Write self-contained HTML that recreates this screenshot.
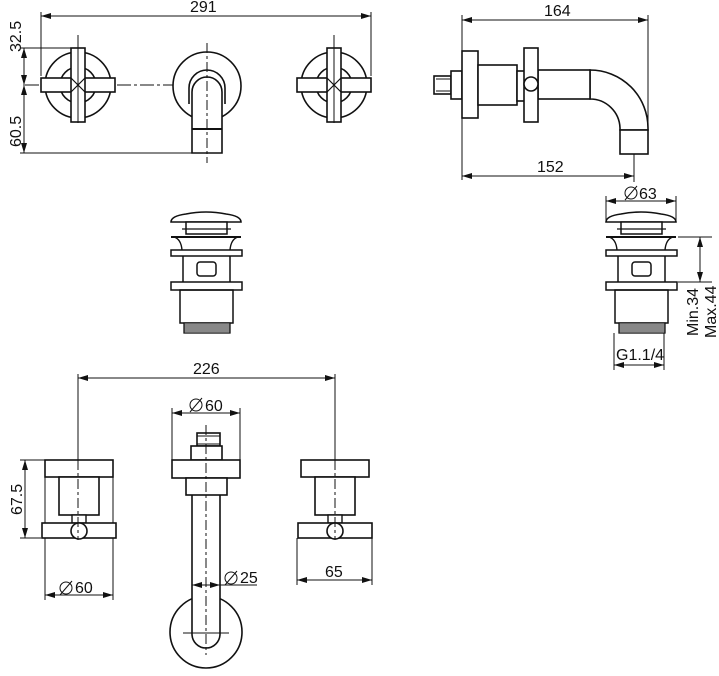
<!DOCTYPE html>
<html><head><meta charset="utf-8"><style>
html,body{margin:0;padding:0;background:#fff;}
svg{display:block;}
text{font-family:"Liberation Sans",sans-serif;font-size:16px;fill:#111;}
</style></head><body>
<svg width="719" height="676" viewBox="0 0 719 676" xmlns="http://www.w3.org/2000/svg">
<defs>
<marker id="a" viewBox="0 0 10 6" refX="10" refY="3" markerWidth="10" markerHeight="6" orient="auto-start-reverse" markerUnits="userSpaceOnUse"><path d="M0,0 L10,3 L0,6 z" fill="#111"/></marker>
<g id="cross">
<circle cx="0" cy="0" r="33" fill="none" stroke="#111" stroke-width="1.6"/>
<circle cx="0" cy="0" r="18" fill="none" stroke="#111" stroke-width="1.6"/>
<rect x="-37" y="-7" width="74" height="14" fill="#fff" stroke="#111" stroke-width="1.6"/>
<rect x="-7" y="-37" width="14" height="74" fill="#fff" stroke="#111" stroke-width="1.6"/>
<rect x="-6" y="-6" width="12" height="12" fill="#fff"/>
<path d="M-7,-7 L7,7 M-7,7 L7,-7" stroke="#111" stroke-width="1.2"/>
</g>
<g id="waste">
<path d="M-35,9 Q-35,3 -20,1 Q0,-3 20,1 Q35,3 35,9 Z" fill="#fff" stroke="#111" stroke-width="1.6"/>
<rect x="-20" y="9" width="41" height="12" fill="#fff" stroke="#111" stroke-width="1.5"/>
<line x1="-24" y1="16" x2="25" y2="16" stroke="#111" stroke-width="1.3"/>
<line x1="-35" y1="24" x2="35" y2="24" stroke="#111" stroke-width="2"/>
<path d="M-32,24 Q-25,26 -24,37 M32,24 Q25,26 24,37" fill="none" stroke="#111" stroke-width="1.4"/>
<rect x="-35" y="37" width="71" height="6" fill="#fff" stroke="#111" stroke-width="1.5"/>
<path d="M-23,43 L-23,69 M24,43 L24,69" stroke="#111" stroke-width="1.5"/>
<rect x="-9" y="49" width="19" height="14" rx="3" fill="none" stroke="#111" stroke-width="1.5"/>
<rect x="-35" y="69" width="71" height="8" fill="#fff" stroke="#111" stroke-width="1.5"/>
<rect x="-26" y="77" width="53" height="33" fill="none" stroke="#111" stroke-width="1.5"/>
<rect x="-22" y="110" width="46" height="10" fill="#fff" stroke="#111" stroke-width="1.3"/>
<path d="M-22,112 H24 M-22,114 H24 M-22,116 H24 M-22,118 H24" stroke="#111" stroke-width="1"/>
</g>
<g id="hnd">
<rect x="-34" y="0" width="68" height="17" fill="#fff" stroke="#111" stroke-width="1.6"/>
<rect x="-20" y="17" width="40" height="38" fill="#fff" stroke="#111" stroke-width="1.6"/>
<rect x="-7" y="55" width="14" height="8" fill="#fff" stroke="#111" stroke-width="1.4"/>
<rect x="-37" y="63" width="74" height="15" fill="#fff" stroke="#111" stroke-width="1.6"/>
<circle cx="0" cy="71" r="8" fill="#fff" stroke="#111" stroke-width="1.6"/>
</g>
</defs>
<g stroke="#111" stroke-width="1" fill="none">
<line x1="41" y1="16" x2="371" y2="16" marker-start="url(#a)" marker-end="url(#a)"/>
<line x1="41" y1="12" x2="41" y2="76"/><line x1="371" y1="12" x2="371" y2="76"/>
<line x1="24" y1="48" x2="24" y2="85" marker-start="url(#a)" marker-end="url(#a)"/>
<line x1="24" y1="85" x2="24" y2="153" marker-start="url(#a)" marker-end="url(#a)"/>
<line x1="20" y1="48" x2="72" y2="48"/><line x1="20" y1="153" x2="192" y2="153"/>
<line x1="25" y1="85" x2="205" y2="85" stroke-dasharray="14,3,3,3"/>
</g>
<use href="#cross" x="78" y="85"/>
<use href="#cross" x="334" y="85"/>
<g stroke="#111" stroke-width="1.6" fill="#fff">
<circle cx="207" cy="86" r="34"/>
<path d="M192,153 V92 A15,15 0 0 1 222,92 V153 Z"/>
<path d="M189,104 V88 A18,18 0 0 1 225,88 V104" fill="none"/>
<line x1="192" y1="129" x2="222" y2="129" stroke-width="2"/>
</g>
<line x1="207" y1="43" x2="207" y2="163" stroke="#111" stroke-width="1" stroke-dasharray="10,3,3,3"/>
<line x1="78" y1="35" x2="78" y2="123" stroke="#111" stroke-width="1"/>
<line x1="334" y1="35" x2="334" y2="123" stroke="#111" stroke-width="1"/>
<text x="190" y="12">291</text>
<text transform="translate(21,52) rotate(-90)">32.5</text>
<text transform="translate(21,147) rotate(-90)">60.5</text>

<g stroke="#111" stroke-width="1" fill="none">
<line x1="462" y1="20" x2="648" y2="20" marker-start="url(#a)" marker-end="url(#a)"/>
<line x1="462" y1="15" x2="462" y2="180"/><line x1="648" y1="15" x2="648" y2="130"/>
<line x1="462" y1="176" x2="634" y2="176" marker-start="url(#a)" marker-end="url(#a)"/>
<line x1="634" y1="120" x2="634" y2="182"/>
</g>
<g stroke="#111" stroke-width="1.6" fill="#fff">
<rect x="434" y="76" width="17" height="18"/>
<rect x="451" y="71" width="11" height="28"/>
<rect x="462" y="51" width="16" height="67"/>
<rect x="478" y="65" width="39" height="40"/>
<rect x="517" y="71" width="8" height="30"/>
<path d="M590,70 A58,58 0 0 1 648,128 V130 H620 V128 A30,30 0 0 0 590,99 Z"/>
<rect x="538" y="70" width="52" height="29"/>
<rect x="524" y="48" width="14" height="74"/>
<circle cx="531" cy="84" r="7"/>
<rect x="620" y="130" width="28" height="24"/>
</g>
<path d="M436,79 H450 M436,91 H450" stroke="#111" stroke-width="1"/>
<text x="544" y="16">164</text>
<text x="537" y="172">152</text>

<use href="#waste" x="206" y="213"/>
<use href="#waste" x="641" y="213"/>
<g stroke="#111" stroke-width="1" fill="none">
<line x1="606" y1="201" x2="676" y2="201" marker-start="url(#a)" marker-end="url(#a)"/>
<line x1="606" y1="196" x2="606" y2="220"/><line x1="676" y1="196" x2="676" y2="220"/>
<line x1="678" y1="237" x2="712" y2="237"/><line x1="678" y1="282" x2="712" y2="282"/>
<line x1="700" y1="237" x2="700" y2="282" marker-start="url(#a)" marker-end="url(#a)"/>
<line x1="614" y1="333" x2="614" y2="370"/><line x1="664" y1="333" x2="664" y2="370"/>
<line x1="614" y1="365" x2="664" y2="365" marker-start="url(#a)" marker-end="url(#a)"/>
<circle cx="631" cy="193" r="6"/><line x1="625" y1="200" x2="637" y2="186"/>
</g>
<text x="639" y="199">63</text>
<text x="616" y="360">G1.1/4</text>
<text transform="translate(698,336) rotate(-90)">Min.34</text>
<text transform="translate(716,338) rotate(-90)">Max.44</text>

<g stroke="#111" stroke-width="1" fill="none">
<line x1="78" y1="378" x2="335" y2="378" marker-start="url(#a)" marker-end="url(#a)"/>
<line x1="78" y1="374" x2="78" y2="460"/><line x1="335" y1="374" x2="335" y2="460"/>
<line x1="25" y1="460" x2="25" y2="538" marker-start="url(#a)" marker-end="url(#a)"/>
<line x1="20" y1="460" x2="45" y2="460"/><line x1="20" y1="538" x2="41" y2="538"/>
<line x1="45" y1="477" x2="45" y2="600"/><line x1="113" y1="477" x2="113" y2="600"/>
<line x1="45" y1="595" x2="113" y2="595" marker-start="url(#a)" marker-end="url(#a)"/>
<line x1="172" y1="408" x2="172" y2="460"/><line x1="240" y1="408" x2="240" y2="460"/>
<line x1="172" y1="413" x2="240" y2="413" marker-start="url(#a)" marker-end="url(#a)"/>
<line x1="297" y1="538" x2="297" y2="585"/><line x1="372" y1="538" x2="372" y2="585"/>
<line x1="297" y1="580" x2="372" y2="580" marker-start="url(#a)" marker-end="url(#a)"/>
<circle cx="66" cy="588" r="6"/><line x1="60" y1="595" x2="72" y2="581"/>
<circle cx="196" cy="405" r="6"/><line x1="190" y1="412" x2="202" y2="398"/>
<circle cx="231" cy="578" r="6"/><line x1="225" y1="585" x2="237" y2="571"/>
</g>
<use href="#hnd" x="79" y="460"/>
<use href="#hnd" x="335" y="460"/>
<g stroke="#111" stroke-width="1.6" fill="#fff">
<circle cx="206" cy="632" r="36"/>
<path d="M192,495 V634 A14,14 0 0 0 220,634 V495"/>
<rect x="197" y="433" width="23" height="13"/>
<rect x="191" y="446" width="31" height="14"/>
<rect x="172" y="460" width="68" height="18"/>
<rect x="186" y="478" width="41" height="17"/>
</g>
<path d="M197,436 H220 M197,444 H220" stroke="#111" stroke-width="1"/>
<g stroke="#111" stroke-width="1" fill="none">
<line x1="78" y1="460" x2="78" y2="540" stroke-dasharray="10,3,3,3"/>
<line x1="335" y1="460" x2="335" y2="540" stroke-dasharray="10,3,3,3"/>
<line x1="206" y1="425" x2="206" y2="655" stroke-dasharray="10,3,3,3"/>
<line x1="183" y1="633" x2="229" y2="633"/>
<line x1="192" y1="585" x2="220" y2="585" marker-start="url(#a)" marker-end="url(#a)"/>
<line x1="220" y1="585" x2="257" y2="585"/>
</g>
<text x="193" y="374">226</text>
<text x="205" y="411">60</text>
<text x="75" y="593">60</text>
<text x="240" y="583">25</text>
<text x="325" y="577">65</text>
<text transform="translate(22,515) rotate(-90)">67.5</text>
</svg>
</body></html>
